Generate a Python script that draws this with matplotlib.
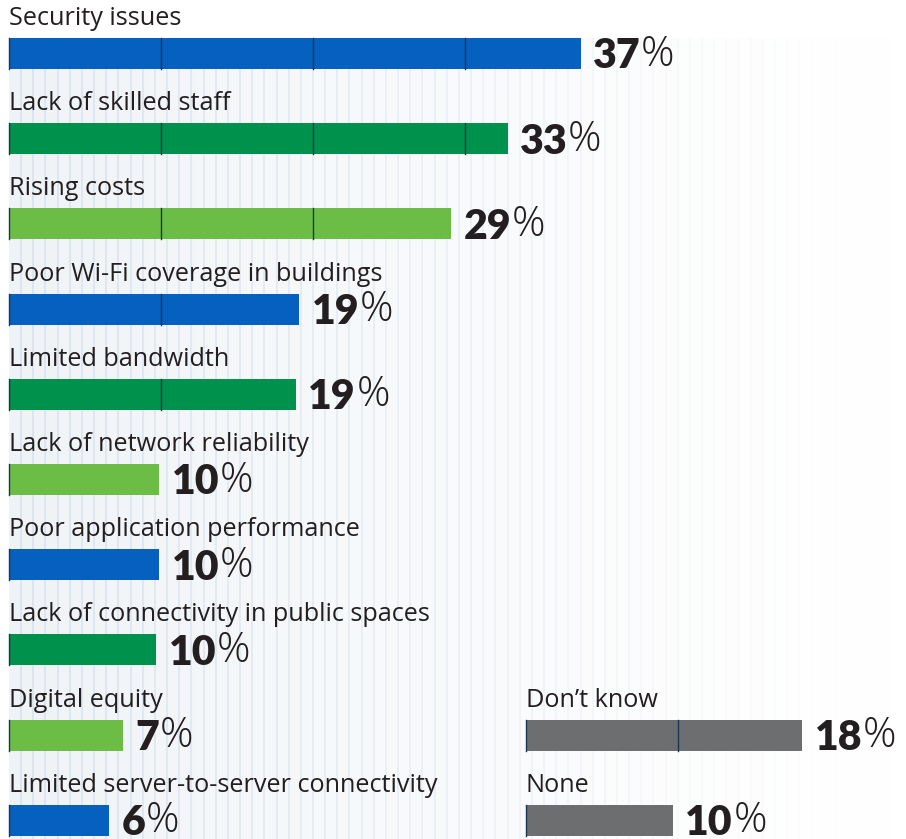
import matplotlib
matplotlib.use("Agg")
import matplotlib.pyplot as plt
import numpy as np
from matplotlib.collections import LineCollection

# left column data
labels = ["Security issues", "Lack of skilled staff", "Rising costs",
          "Poor Wi-Fi coverage in buildings", "Limited bandwidth",
          "Lack of network reliability", "Poor application performance",
          "Lack of connectivity in public spaces", "Digital equity",
          "Limited server-to-server connectivity"]
values = [37.6, 32.8, 29.1, 19.1, 18.9, 9.9, 9.9, 9.7, 7.5, 6.6]
shown = ["37", "33", "29", "19", "19", "10", "10", "10", "7", "6"]
colors = ["#0560bf", "#00914c", "#6cbd45"] * 3 + ["#0560bf"]

# right column data (rows 8 and 9)
r_labels = ["Don\u2019t know", "None"]
r_values = [18.2, 9.7]
r_shown = ["18", "10"]
r_rows = [8, 9]
r_color = "#6d6e70"

W, H = 906, 839
PX = 15.2        # pixels per percent
X0 = 9           # left edge in px
TOP = 38         # top of first bar
STEP = 85.2      # row spacing in px
BH = 31          # bar height
R_OFF = 34       # right column offset in percent

fig = plt.figure(figsize=(W / 100, H / 100), dpi=100)
ax = fig.add_axes([0, 0, 1, 1])
ax.set_xlim(-X0 / PX, (W - X0) / PX)
ax.set_ylim(H, 0)
ax.axis("off")

# faded background with stripes
xr = (W - X0) / PX
grad = np.linspace(1, 0, 256) ** 1.3
img = np.zeros((1, 256, 4))
img[..., :3] = np.array([0.945, 0.955, 0.968])
img[..., 3] = grad
ax.imshow(img, extent=(0, xr, H, TOP), aspect="auto", zorder=0)
gx = np.arange(0.8, xr, 0.8)
segs = [[(g, TOP), (g, H)] for g in gx]
a = np.clip(1 - gx / 56, 0, 1) ** 1.2
lc_cols = [(0.85, 0.89, 0.945, aa) for aa in a]
ax.add_collection(LineCollection(segs, colors=lc_cols, linewidths=1.3, zorder=1))

txt = "#231f20"
lab_font = "Open Sans"
num_font = "Lato"

# fit label size so the longest label spans ~429 px like the original
r = fig.canvas.get_renderer()
probe = ax.text(0, 0, labels[-1], fontsize=15, family=lab_font)
wpx = probe.get_window_extent(r).width
probe.remove()
lab_size = 15 * 429 / wpx


def draw_bar(x0, row, val, num, lab, col):
    y = TOP + row * STEP
    ax.barh(y, val, left=x0, height=BH, align="edge", color=col, zorder=2)
    for d in range(0, int(val) + 1, 10):
        if d <= val:
            ax.plot([x0 + d, x0 + d], [y, y + BH], color="#1c3553", lw=1.0, zorder=3)
    ax.text(x0, y - 13, lab, fontsize=lab_size, family=lab_font, color=txt,
            va="baseline", ha="left", zorder=4)
    t = ax.text(x0 + val + 0.8, y + BH - 0.5, num, fontsize=29.5, family=num_font,
                weight="heavy", color=txt, va="baseline", ha="left", zorder=4)
    ax.annotate("%", xy=(1, 0), xycoords=t, xytext=(0.5, 0), textcoords="offset points",
                fontsize=30, family=lab_font, weight="light", color=txt,
                va="bottom", ha="left", zorder=4)


for i in range(len(labels)):
    draw_bar(0, i, values[i], shown[i], labels[i], colors[i])
for j in range(len(r_labels)):
    draw_bar(R_OFF, r_rows[j], r_values[j], r_shown[j], r_labels[j], r_color)

fig.savefig("out.png", dpi=100, facecolor="white")
